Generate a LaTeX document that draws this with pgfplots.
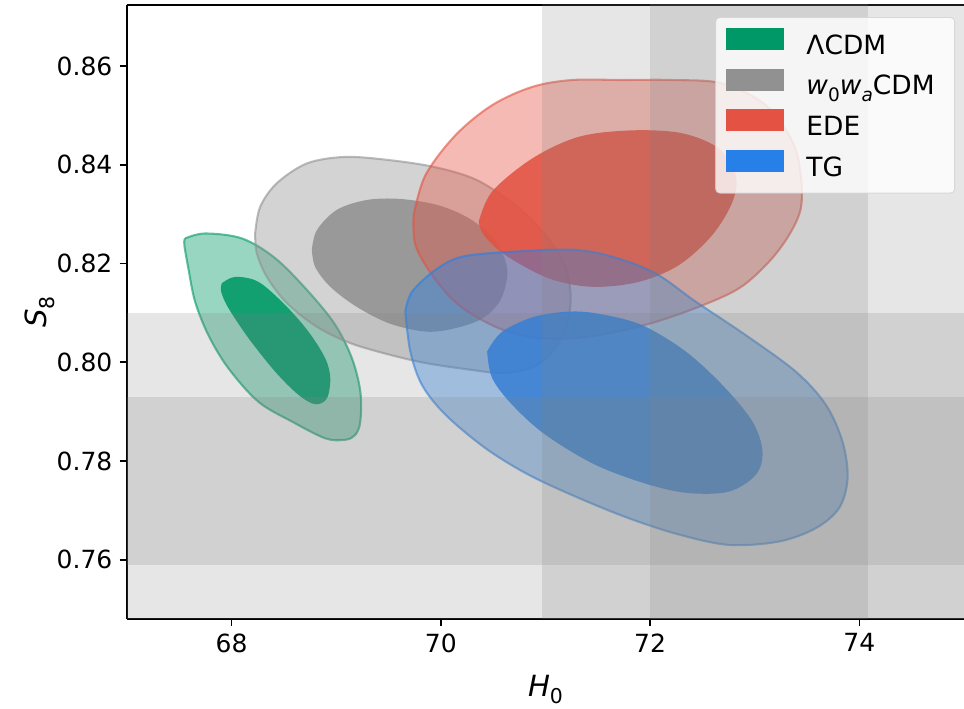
\documentclass[border=0pt]{standalone}
\usepackage{fontspec}
\setmainfont{DejaVu Sans}
\usepackage{pgfplots}
\pgfplotsset{compat=1.18}
\definecolor{cgreen}{RGB}{0,152,102}
\definecolor{cgray}{RGB}{145,145,145}
\definecolor{cred}{RGB}{227,82,66}
\definecolor{cblue}{RGB}{38,128,232}
\definecolor{band}{RGB}{128,128,128}
\pgfplotsset{
  outer/.style={smooth, tension=0.55, line width=1pt, draw=#1, draw opacity=0.6, fill=#1, fill opacity=0.4, forget plot},
  inner/.style={smooth, tension=0.55, draw=none, fill=#1, fill opacity=0.88, forget plot},
  patch/.style={legend image code/.code={\fill[#1, sharp corners, fill opacity=1, draw=none] (0pt,-0.9pt) rectangle (28pt,9.7pt);}},
}
\begin{document}
\begin{tikzpicture}
\begin{axis}[
  scale only axis, width=401.8pt, height=294.7pt,
  xmin=67, xmax=75, ymin=0.748, ymax=0.8724,
  axis y line*=left,
  axis line style={line width=0.8pt},
  xtick={68,70,72,74}, ytick={0.76,0.78,0.80,0.82,0.84,0.86},
  xtick pos=bottom, ytick pos=left,
  tick align=outside, major tick length=3.5pt,
  tick style={black, line width=0.8pt},
  yticklabel style={/pgf/number format/.cd, fixed, fixed zerofill, precision=2},
  /pgf/number format/assume math mode=true,
  ticklabel style={font=\fontsize{12}{14}\selectfont},
  label style={font=\fontsize{14}{16}\selectfont},
  xlabel={\textit{H}\raisebox{-0.25em}{\fontsize{9.8}{10}\selectfont 0}},
  ylabel={\textit{S}\raisebox{-0.25em}{\fontsize{9.8}{10}\selectfont 8}},
  xlabel style={at={(axis description cs:0.5,-0.126)}, anchor=base},
  ylabel style={at={(axis description cs:-0.0956,0.5)}, anchor=base},
  legend style={at={(1,1)}, anchor=north east, xshift=-4.3pt, yshift=-5.8pt,
    draw=black!18, rounded corners=2pt, fill=white, fill opacity=0.8, draw opacity=0.8, text opacity=1,
    inner xsep=4.8pt, inner ysep=4.9pt, row sep=3.9pt, column sep=10.8pt,
    font=\fontsize{12.7}{14}\selectfont,
    nodes={inner sep=0pt, text height=9pt, text depth=3pt}},
  legend cell align=left,
]
% LCDM
\addplot[outer=cgreen] coordinates {(67.555,0.8251) (67.746,0.8261) (68.098,0.8251) (68.416,0.8211) (68.735,0.8143) (68.990,0.8076) (69.150,0.8008) (69.230,0.7941) (69.230,0.7880) (69.182,0.7853) (69.086,0.7843) (68.895,0.7846) (68.576,0.7880) (68.256,0.7920) (67.969,0.7988) (67.778,0.8055) (67.651,0.8123) (67.587,0.8190) (67.548,0.8238) (67.555,0.8251)};
\addplot[inner=cgreen] coordinates {(67.906,0.8160) (68.033,0.8173) (68.256,0.8163) (68.512,0.8116) (68.735,0.8062) (68.895,0.8008) (68.943,0.7968) (68.911,0.7927) (68.799,0.7915) (68.639,0.7934) (68.416,0.7981) (68.161,0.8049) (67.969,0.8110) (67.900,0.8143) (67.906,0.8160)};
% w0waCDM
\addplot[outer=cgray] coordinates {(68.225,0.8261) (68.273,0.8315) (68.433,0.8363) (68.720,0.8403) (69.070,0.8416) (69.453,0.8411) (69.931,0.8396) (70.346,0.8369) (70.729,0.8315) (70.984,0.8261) (71.175,0.8201) (71.239,0.8140) (71.208,0.8079) (71.079,0.8025) (70.888,0.7991) (70.601,0.7978) (70.282,0.7985) (69.868,0.7998) (69.517,0.8015) (69.134,0.8039) (68.815,0.8072) (68.528,0.8120) (68.337,0.8173) (68.241,0.8221) (68.225,0.8261)};
\addplot[inner=cgray] coordinates {(68.767,0.8228) (68.815,0.8268) (69.006,0.8309) (69.294,0.8329) (69.612,0.8331) (69.964,0.8319) (70.251,0.8294) (70.474,0.8258) (70.598,0.8217) (70.636,0.8177) (70.569,0.8126) (70.407,0.8090) (70.155,0.8070) (69.868,0.8062) (69.517,0.8078) (69.198,0.8112) (68.943,0.8153) (68.799,0.8193) (68.767,0.8228)};
% EDE
\addplot[outer=cred] coordinates {(69.740,0.8298) (69.852,0.8379) (70.139,0.8460) (70.490,0.8521) (70.873,0.8558) (71.256,0.8572) (71.734,0.8572) (72.212,0.8572) (72.691,0.8565) (73.105,0.8521) (73.361,0.8447) (73.440,0.8379) (73.440,0.8312) (73.328,0.8258) (73.137,0.8204) (72.850,0.8150) (72.435,0.8110) (71.957,0.8076) (71.414,0.8052) (70.936,0.8049) (70.553,0.8069) (70.170,0.8116) (69.916,0.8177) (69.756,0.8238) (69.740,0.8298)};
\addplot[inner=cred] coordinates {(70.362,0.8285) (70.490,0.8346) (70.873,0.8413) (71.319,0.8457) (71.830,0.8470) (72.309,0.8464) (72.659,0.8433) (72.818,0.8379) (72.787,0.8325) (72.595,0.8258) (72.276,0.8197) (71.893,0.8163) (71.447,0.8153) (71.032,0.8170) (70.617,0.8217) (70.409,0.8258) (70.362,0.8285)};
% TG
\addplot[outer=cblue] coordinates {(69.660,0.8103) (69.724,0.8143) (69.947,0.8187) (70.203,0.8214) (70.681,0.8224) (71.256,0.8228) (71.638,0.8214) (72.053,0.8180) (72.435,0.8123) (72.914,0.8055) (73.392,0.7981) (73.679,0.7914) (73.839,0.7839) (73.887,0.7765) (73.807,0.7705) (73.584,0.7664) (73.233,0.7637) (72.754,0.7630) (72.276,0.7651) (71.797,0.7684) (71.319,0.7725) (70.840,0.7772) (70.426,0.7826) (70.043,0.7894) (69.820,0.7954) (69.708,0.8022) (69.660,0.8103)};
\addplot[inner=cblue] coordinates {(70.442,0.8022) (70.586,0.8062) (70.904,0.8093) (71.287,0.8103) (71.638,0.8093) (71.957,0.8072) (72.340,0.8022) (72.691,0.7954) (72.978,0.7880) (73.074,0.7819) (73.010,0.7772) (72.754,0.7738) (72.371,0.7735) (71.989,0.7752) (71.478,0.7792) (71.000,0.7853) (70.681,0.7914) (70.490,0.7968) (70.442,0.8022)};
% bands (on top)
\addplot[fill=band, fill opacity=0.2, draw=none, forget plot] coordinates {(70.97,0.70) (75.2,0.70) (75.2,0.90) (70.97,0.90)} --cycle;
\addplot[fill=band, fill opacity=0.2, draw=none, forget plot] coordinates {(72.00,0.70) (74.08,0.70) (74.08,0.90) (72.00,0.90)} --cycle;
\addplot[fill=band, fill opacity=0.2, draw=none, forget plot] coordinates {(66,0.742) (76,0.742) (76,0.810) (66,0.810)} --cycle;
\addplot[fill=band, fill opacity=0.2, draw=none, forget plot] coordinates {(66,0.759) (76,0.759) (76,0.793) (66,0.793)} --cycle;
% legend
\addlegendimage{patch=cgreen}
\addlegendentry{ΛCDM}
\addlegendimage{patch=cgray}
\addlegendentry{\textit{w}\raisebox{-0.25em}{\fontsize{8.9}{9}\selectfont 0}\textit{w}\raisebox{-0.25em}{\fontsize{8.9}{9}\selectfont\itshape a}CDM\rule{4.8pt}{0pt}}
\addlegendimage{patch=cred}
\addlegendentry{EDE}
\addlegendimage{patch=cblue}
\addlegendentry{TG}
\coordinate (SW) at (rel axis cs:0,0);
\coordinate (NE) at (rel axis cs:1,1);
\end{axis}
\pgfresetboundingbox
\path ([xshift=-60.96pt,yshift=-43.2pt]SW) rectangle ([yshift=2.4pt]NE);
\end{tikzpicture}
\end{document}
